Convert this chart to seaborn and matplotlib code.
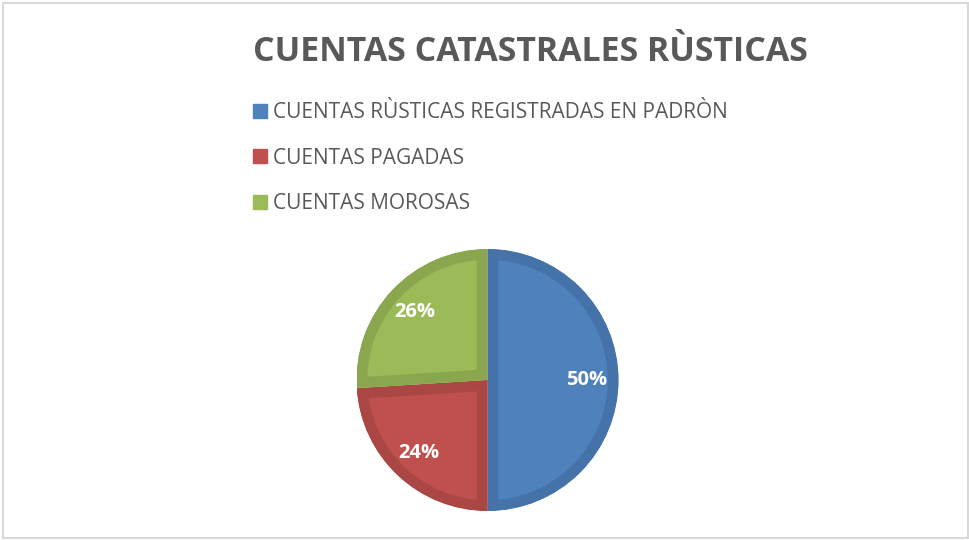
import matplotlib
matplotlib.use("Agg")
import matplotlib.pyplot as plt
import seaborn as sns
from matplotlib.patches import Patch, Rectangle

categories = ["CUENTAS RÙSTICAS REGISTRADAS EN PADRÒN", "CUENTAS PAGADAS", "CUENTAS MOROSAS"]
values = [50, 24, 26]
title = "CUENTAS CATASTRALES RÙSTICAS"

face_colors = ["#4F81BD", "#C0504D", "#9BBB59"]
edge_colors = ["#4573A9", "#AA4744", "#8AA74F"]

sns.set_theme(style="white")
plt.rcParams["font.family"] = ["Open Sans", "DejaVu Sans"]

W, H = 969, 540
fig = plt.figure(figsize=(W / 100, H / 100), dpi=100)
fig.patch.set_facecolor("white")

# outer chart border
fig.add_artist(Rectangle((2.5 / W, 2.5 / H), (W - 4) / W, (H - 5) / H,
                         transform=fig.transFigure, fill=False,
                         edgecolor="#D9D9D9", linewidth=1.5))

cx, cy, r = 487.5, 380, 131
ax = fig.add_axes([(cx - r) / W, (H - cy - r) / H, 2 * r / W, 2 * r / H])
wedges, texts, autotexts = ax.pie(
    values, colors=face_colors, startangle=90, counterclock=False,
    autopct=lambda p: f"{p:.0f}%", pctdistance=0.76, radius=1,
    textprops=dict(color="white", fontsize=14.5, fontweight="bold"),
)
for w, ec in zip(wedges, edge_colors):
    w.set_edgecolor(ec)
    w.set_linewidth(15.5)
    w.set_clip_on(True)
    w.set_clip_path(w)
ax.set_xlim(-1, 1)
ax.set_ylim(-1, 1)
ax.axis("off")

fig.text(530 / W, 1 - 52 / H, title, ha="center", va="center",
         fontsize=24.4, fontweight="bold", color="#595959")

handles = [Patch(facecolor=c, edgecolor=c) for c in face_colors]
fig.legend(handles, categories, loc="upper left",
           bbox_to_anchor=(253 / W, 1 - 102 / H), frameon=False,
           fontsize=15, labelcolor="#595959", borderpad=0, borderaxespad=0,
           handlelength=0.65, handleheight=0.65, handletextpad=0.3,
           labelspacing=1.18)

fig.savefig("out.png", dpi=100)
